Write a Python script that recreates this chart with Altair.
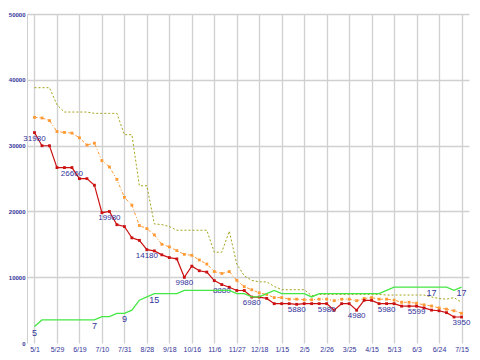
import altair as alt
import pandas as pd

tick_labels = ["5/1", "5/29", "6/19", "7/10", "7/31", "8/28", "9/18", "10/16", "11/6", "11/27",
               "12/18", "1/15", "2/5", "2/26", "3/25", "4/15", "5/13", "6/3", "6/24", "7/15"]

red = [31980, 29980, 29980, 26660, 26660, 26660, 24980, 24980, 23980, 19800,
       19980, 17980, 17700, 15980, 15600, 14180, 14000, 13400, 12980, 12780,
       9980, 11680, 10980, 10780, 9480, 8880, 8480, 7980, 7980, 6980,
       6980, 6780, 5980, 5980, 5980, 5880, 5980, 5980, 5980, 5980,
       4980, 5980, 5980, 4980, 6480, 6480, 5980, 5980, 5980, 5599,
       5599, 5599, 5330, 5000, 4900, 4610, 3950, 3950]

orange = [34290, 34200, 33800, 32140, 32000, 31900, 31190, 30090, 30370, 27710,
          26760, 24860, 22140, 20950, 17860, 17380, 16430, 15000, 14610, 14040,
          13470, 13330, 12620, 12000, 10860, 10570, 10860, 9520, 8570, 8090,
          7620, 7380, 6900, 6900, 6660, 6660, 6570, 6570, 6660, 6660,
          6430, 6660, 6660, 6430, 6760, 6900, 6660, 6660, 6520, 6190,
          6190, 6040, 5800, 5620, 5330, 5140, 4900, 4520]

olive = [38800, 38800, 38800, 36200, 35100, 35100, 35100, 35100, 34900, 34900,
         34900, 34900, 31660, 31660, 23900, 23900, 18090, 18000, 17700, 17140,
         17140, 17140, 17140, 17140, 13800, 13800, 17000, 12000, 10200, 9520,
         9290, 9290, 8600, 8100, 8100, 8100, 8100, 7200, 7380, 7380,
         7380, 7380, 7380, 7380, 7380, 7380, 7380, 7290, 7290, 7290,
         7290, 7290, 7290, 7000, 6760, 6660, 6900, 6190]

green = [5, 7, 7, 7, 7, 7, 7, 7, 7, 8,
         8, 9, 9, 10, 13, 14, 15, 15, 15, 15,
         16, 16, 16, 16, 16, 16, 16, 15, 15, 14,
         14, 15, 16, 15, 15, 15, 15, 14, 15, 15,
         15, 15, 15, 15, 15, 15, 15, 16, 17, 17,
         17, 17, 17, 17, 17, 17, 16, 17]

price_label_idx = [0, 5, 10, 15, 20, 25, 29, 35, 39, 43, 47, 51, 57]
count_label_idx = [0, 8, 12, 16, 53, 57]

df = pd.DataFrame({"i": list(range(len(red))), "red": red, "orange": orange,
                   "olive": olive, "green": green})
plab = df.iloc[price_label_idx]
clab = df.iloc[count_label_idx]

LBL = "#333399"
GRID = "#d0d0d0"
FONT = "Liberation Sans"

label_expr = "[" + ",".join("'%s'" % t for t in tick_labels) + "][round(datum.value / 3)]"

x = alt.X("i:Q",
          scale=alt.Scale(domain=[-1, 58], nice=False, zero=False),
          axis=alt.Axis(values=list(range(0, 58, 3)), labelExpr=label_expr, title=None,
                        ticks=False, domain=False, grid=True, gridColor=GRID, gridWidth=1.3,
                        labelFontSize=7, labelColor=LBL, labelFont=FONT, labelPadding=2,
                        labelOverlap=False))

yscale = alt.Scale(domain=[0, 50000], nice=False, zero=True)
yaxis = alt.Axis(values=[0, 10000, 20000, 30000, 40000, 50000], title=None, ticks=False,
                 format="d",
                 domain=True, domainColor=GRID, grid=True, gridColor=GRID, gridWidth=1.3,
                 gridOpacity={"condition": {"test": "datum.value === 0", "value": 0}, "value": 1},
                 labelFontSize=6, labelFontWeight="bold", labelColor=LBL, labelFont=FONT,
                 labelPadding=2)

def py(field):
    return alt.Y(field + ":Q", scale=yscale, axis=yaxis)

cscale = alt.Scale(domain=[0, 100], nice=False, zero=True)

def cy(field):
    return alt.Y(field + ":Q", scale=cscale, axis=None)

base = alt.Chart(df)

olive_line = base.mark_line(color="#a3a31a", strokeWidth=1, strokeDash=[2, 2]).encode(x=x, y=py("olive"))
orange_line = base.mark_line(
    color="#ff9933", strokeWidth=1, strokeDash=[3, 2, 1, 2],
    point=alt.OverlayMarkDef(shape="square", size=8, filled=True, color="#ff9933")
).encode(x=x, y=py("orange"))
red_line = base.mark_line(
    color="#cc1111", strokeWidth=1.2,
    point=alt.OverlayMarkDef(shape="square", size=8, filled=True, color="#cc1111")
).encode(x=x, y=py("red"))
price_text = alt.Chart(plab).mark_text(
    baseline="top", dy=2, fontSize=8, font=FONT, color=LBL
).encode(x=x, y=py("red"), text=alt.Text("red:Q", format="d"))

green_line = base.mark_line(color="#44e844", strokeWidth=1.3).encode(x=x, y=cy("green"))
count_text = alt.Chart(clab).mark_text(
    baseline="top", dy=2, fontSize=9, font=FONT, color=LBL
).encode(x=x, y=cy("green"), text=alt.Text("green:Q", format="d"))

price_group = alt.layer(olive_line, orange_line, red_line, price_text)
count_group = alt.layer(green_line, count_text)

chart = alt.layer(price_group, count_group).resolve_scale(y="independent").properties(
    width=464, height=344,
    autosize=alt.AutoSizeParams(type="fit", contains="padding"),
    padding={"left": 0, "top": 3, "right": 1, "bottom": 0},
    background="white",
).configure_view(strokeWidth=0)

chart.save("out.html", embed_options={"renderer": "svg", "actions": False})
